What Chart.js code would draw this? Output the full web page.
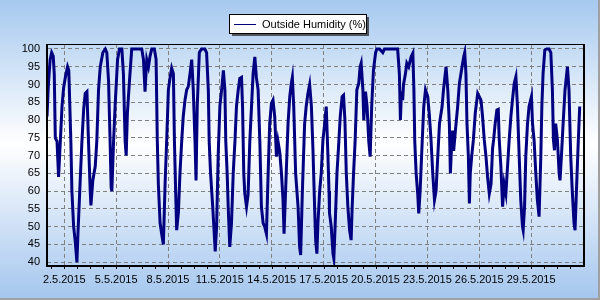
<!DOCTYPE html>
<html>
<head>
<meta charset="utf-8">
<script src="https://cdn.jsdelivr.net/npm/chart.js@4.4.1/dist/chart.umd.min.js"></script>
<style>
  html, body { margin: 0; padding: 0; background: #fff; }
  #HumidityChart { display: block; }
</style>
</head>
<body>
<canvas id="HumidityChart" width="600" height="300"></canvas>
<script>
const seriesLabel = "Outside Humidity (%)";
const monthSuffix = ".5.2015";

// days since 1.5.2015 00:00
const dayOffsets = [
    0.00, 0.08, 0.18, 0.27, 0.36, 0.42, 0.48, 0.58, 0.67, 0.75, 0.87, 0.96, 1.06, 1.19, 1.26, 1.38, 1.44, 1.54, 1.63, 1.73,
    1.79, 1.92, 2.02, 2.12, 2.21, 2.31, 2.40, 2.50, 2.54, 2.65, 2.79, 2.88, 2.98, 3.08, 3.23, 3.37, 3.46, 3.56, 3.65, 3.71,
    3.75, 3.85, 3.94, 4.08, 4.19, 4.33, 4.42, 4.52, 4.58, 4.65, 4.77, 4.90, 5.00, 5.48, 5.58, 5.67, 5.77, 5.87, 5.96, 6.06,
    6.21, 6.31, 6.38, 6.44, 6.54, 6.63, 6.73, 6.83, 6.92, 7.02, 7.12, 7.21, 7.31, 7.37, 7.44, 7.50, 7.60, 7.69, 7.79, 7.88,
    7.98, 8.08, 8.17, 8.27, 8.37, 8.46, 8.56, 8.62, 8.69, 8.81, 8.94, 9.13, 9.23, 9.33, 9.38, 9.46, 9.58, 9.65, 9.73, 9.81,
    9.90, 10.00, 10.10, 10.20, 10.29, 10.34, 10.42, 10.48, 10.57, 10.67, 10.77, 10.87, 10.96, 11.06, 11.15, 11.25, 11.31, 11.38, 11.44, 11.54,
    11.63, 11.73, 11.83, 11.92, 12.02, 12.11, 12.21, 12.31, 12.40, 12.50, 12.59, 12.69, 12.79, 12.88, 12.98, 13.07, 13.17, 13.27, 13.36, 13.46,
    13.56, 13.65, 13.71, 13.94, 14.04, 14.13, 14.19, 14.27, 14.38, 14.52, 14.61, 14.67, 14.77, 14.90, 14.99, 15.09, 15.19, 15.29, 15.38, 15.48,
    15.54, 15.61, 15.67, 15.77, 15.86, 15.96, 16.06, 16.15, 16.25, 16.31, 16.34, 16.44, 16.54, 16.59, 16.67, 16.77, 16.88, 16.96, 17.07, 17.15,
    17.23, 17.31, 17.40, 17.50, 17.59, 17.65, 17.73, 17.82, 17.92, 18.03, 18.11, 18.17, 18.27, 18.32, 18.42, 18.51, 18.61, 18.69, 18.78, 18.88,
    19.00, 19.07, 19.23, 19.42, 19.52, 20.28, 20.38, 20.44, 20.50, 20.57, 20.62, 20.73, 20.81, 20.92, 21.06, 21.16, 21.22, 21.27, 21.35, 21.44,
    21.50, 21.58, 21.70, 21.79, 21.89, 22.02, 22.12, 22.21, 22.31, 22.41, 22.50, 22.60, 22.70, 22.85, 22.93, 23.08, 23.18, 23.27, 23.33, 23.41,
    23.46, 23.52, 23.62, 23.75, 23.85, 23.94, 24.10, 24.16, 24.23, 24.29, 24.37, 24.43, 24.48, 24.56, 24.66, 24.77, 24.91, 25.00, 25.10, 25.19,
    25.29, 25.39, 25.48, 25.58, 25.68, 25.77, 25.83, 25.92, 26.02, 26.10, 26.15, 26.25, 26.35, 26.44, 26.54, 26.63, 26.73, 26.83, 26.92, 27.02,
    27.12, 27.21, 27.31, 27.40, 27.50, 27.54, 27.62, 27.69, 27.79, 27.88, 28.02, 28.08, 28.17, 28.27, 28.36, 28.46, 28.56, 28.62, 28.69, 28.79,
    28.90, 29.04, 29.14, 29.23, 29.29, 29.35, 29.42, 29.52, 29.62, 29.67, 29.75, 29.85, 29.96, 30.10, 30.19, 30.29, 30.38, 30.48, 30.54, 30.62,
    30.73, 30.81
];

const humidity = [
    81, 90, 97, 99, 98, 93, 75, 74, 64, 72, 84, 89, 92, 95, 94, 74, 60, 50, 46, 40,
    48, 63, 74, 83, 87.5, 88, 74, 60, 56, 63, 67, 74, 88.5, 95, 99, 100, 99, 91, 74, 61,
    60, 74, 84, 97, 100, 100, 93, 74, 70, 82, 91, 100, 100, 100, 97, 88, 97, 95, 98, 100,
    100, 97, 74, 62, 51, 48, 45, 62, 74, 88.5, 92, 94.6, 93, 74, 60, 49, 54, 65, 74, 81,
    85.6, 88.5, 89.4, 93, 97, 88.5, 74, 63, 84, 99, 100, 100, 99, 88.5, 74, 65, 56, 50, 43, 50,
    70, 84, 88.5, 94, 88.5, 74, 65, 55.6, 44.3, 51, 65, 74, 84, 88.5, 91.7, 92, 83.8, 65, 59.3, 55.6,
    59, 74, 84, 93, 97.8, 92, 88.5, 74, 55.6, 51, 50, 48, 65, 79, 84.7, 85.6, 81, 69.7, 74, 71,
    65, 57.5, 48, 79, 86.6, 90.3, 92, 83.8, 65, 55.6, 44.3, 42, 60, 79, 83.8, 87.5, 90, 84, 72, 55,
    46, 42.4, 51, 60, 65, 74.4, 79, 83.8, 69.7, 60, 53.7, 50, 42.4, 41, 51, 65, 74, 81, 86.6, 87,
    80, 65, 55.6, 49, 46.2, 55.6, 65, 74, 88.5, 90.3, 95, 96, 88.5, 80, 88, 84, 74, 69.7, 84, 94,
    98.8, 100, 100, 99, 100, 100, 93, 80, 88, 85.6, 90, 93, 96, 95, 97.8, 98.8, 88.5, 74, 65, 59.3,
    53.7, 60, 74, 83.8, 88.5, 86.6, 81, 74.4, 65, 57.5, 60, 69.7, 79, 83.8, 88.5, 95, 88.5, 79, 65, 74,
    77, 71.3, 77, 83.8, 90.3, 93, 97.8, 99, 93, 79, 69.7, 56.5, 65, 69.7, 74.4, 82, 87.5, 86.6, 85.6, 81,
    74.4, 69.7, 64, 59.3, 62, 72, 74.4, 79, 82.8, 83, 75, 67, 55.6, 62, 59.3, 66.5, 74.4, 81, 85.6, 90.3,
    92.2, 83.8, 69.7, 57.5, 50, 49, 55.6, 69.7, 79, 83.8, 86.6, 79, 74.4, 65, 57.5, 52.8, 69.7, 83.8, 93, 99.7,
    100, 100, 99, 88.5, 74.4, 71.5, 79, 74.4, 65, 63, 69.7, 79, 88.5, 95, 88.5, 69.7, 60, 51, 49, 60,
    74.4, 83.8
];

const yTicks = [40, 45, 50, 55, 60, 65, 70, 75, 80, 85, 90, 95, 100];
const xTicks = [1, 4, 7, 10, 13, 16, 19, 22, 25, 28];

const tickFont = { family: "'Liberation Sans', Arial, sans-serif", size: 11 };

const backgroundPlugin = {
    id: "background",
    beforeDraw(chart) {
        const ctx = chart.ctx;
        const g = ctx.createLinearGradient(0, 0, 0, chart.height);
        g.addColorStop(0, "#a6c9ef");
        g.addColorStop(0.48, "#ffffff");
        g.addColorStop(1, "#a4c6ee");
        ctx.save();
        ctx.fillStyle = g;
        ctx.fillRect(0, 0, chart.width, chart.height);
        ctx.fillStyle = "#a0a0a0";
        ctx.fillRect(chart.width - 2, 0, 2, chart.height);
        ctx.fillRect(0, chart.height - 2, chart.width, 2);
        ctx.restore();
    }
};

const framePlugin = {
    id: "frame",
    afterDraw(chart) {
        const ctx = chart.ctx;
        const area = chart.chartArea;
        const xScale = chart.scales.x;
        ctx.save();

        // minor tick marks under the x axis
        ctx.strokeStyle = "#000";
        ctx.lineWidth = 1;
        ctx.beginPath();
        for (let d = 0.25; d < xScale.max; d += 0.75) {
            const px = Math.round(xScale.getPixelForValue(d)) + 0.5;
            ctx.moveTo(px, area.bottom);
            ctx.lineTo(px, area.bottom + 4);
        }
        ctx.stroke();

        // plot frame
        ctx.lineWidth = 1;
        ctx.strokeRect(Math.round(area.left) + 0.5, Math.round(area.top) + 0.5,
            Math.round(area.right - area.left), Math.round(area.bottom - area.top));
        ctx.lineWidth = 2;
        ctx.beginPath();
        ctx.moveTo(Math.round(area.left), area.top);
        ctx.lineTo(Math.round(area.left), Math.round(area.bottom) + 1);
        ctx.lineTo(Math.round(area.right) + 1, Math.round(area.bottom) + 1);
        ctx.lineTo(Math.round(area.right) + 1, area.top);
        ctx.stroke();

        // legend box
        const lx = 229, ly = 14, lw = 137, lh = 19;
        ctx.fillStyle = "rgba(40,40,40,0.75)";
        ctx.fillRect(lx + 3, ly + 3, lw, lh);
        ctx.fillStyle = "#fff";
        ctx.fillRect(lx, ly, lw, lh);
        ctx.lineWidth = 1;
        ctx.strokeStyle = "#000";
        ctx.strokeRect(lx + 0.5, ly + 0.5, lw, lh);
        ctx.strokeStyle = "#000080";
        ctx.beginPath();
        ctx.moveTo(lx + 5, ly + 10.5);
        ctx.lineTo(lx + 27, ly + 10.5);
        ctx.stroke();
        ctx.fillStyle = "#000";
        ctx.font = "11px 'Liberation Sans', Arial, sans-serif";
        ctx.textBaseline = "middle";
        ctx.fillText(seriesLabel, lx + 33, ly + 10.5);
        ctx.restore();
    }
};

const ctx = document.getElementById("HumidityChart").getContext("2d");

const chart = new Chart(ctx, {
    type: "line",
    data: {
        datasets: [{
            label: seriesLabel,
            data: dayOffsets.map((d, i) => ({ x: d, y: humidity[i] })),
            borderColor: "#000080",
            backgroundColor: "#000080",
            borderWidth: 3,
            pointRadius: 0,
            tension: 0,
            fill: false
        }]
    },
    options: {
        responsive: false,
        animation: false,
        devicePixelRatio: 1,
        layout: { padding: { top: 44, right: 17, left: 0, bottom: 0 } },
        plugins: {
            legend: { display: false },
            tooltip: { enabled: false }
        },
        scales: {
            x: {
                type: "linear",
                min: 0,
                max: 31,
                afterBuildTicks: scale => { scale.ticks = xTicks.map(v => ({ value: v })); },
                afterFit: scale => { scale.height = 35; },
                ticks: {
                    color: "#000",
                    font: tickFont,
                    padding: 8,
                    maxRotation: 0,
                    autoSkip: false,
                    callback: value => (value + 1) + monthSuffix
                },
                grid: { color: "#808080", drawTicks: false },
                border: { display: false, dash: [4, 3] }
            },
            y: {
                min: 39.2,
                max: 101.4,
                afterBuildTicks: scale => { scale.ticks = yTicks.map(v => ({ value: v })); },
                afterFit: scale => { scale.width = 47; },
                ticks: {
                    color: "#000",
                    font: tickFont,
                    padding: 7
                },
                grid: { color: "#808080", drawTicks: false },
                border: { display: false, dash: [4, 3] }
            }
        }
    },
    plugins: [backgroundPlugin, framePlugin]
});
</script>
</body>
</html>
